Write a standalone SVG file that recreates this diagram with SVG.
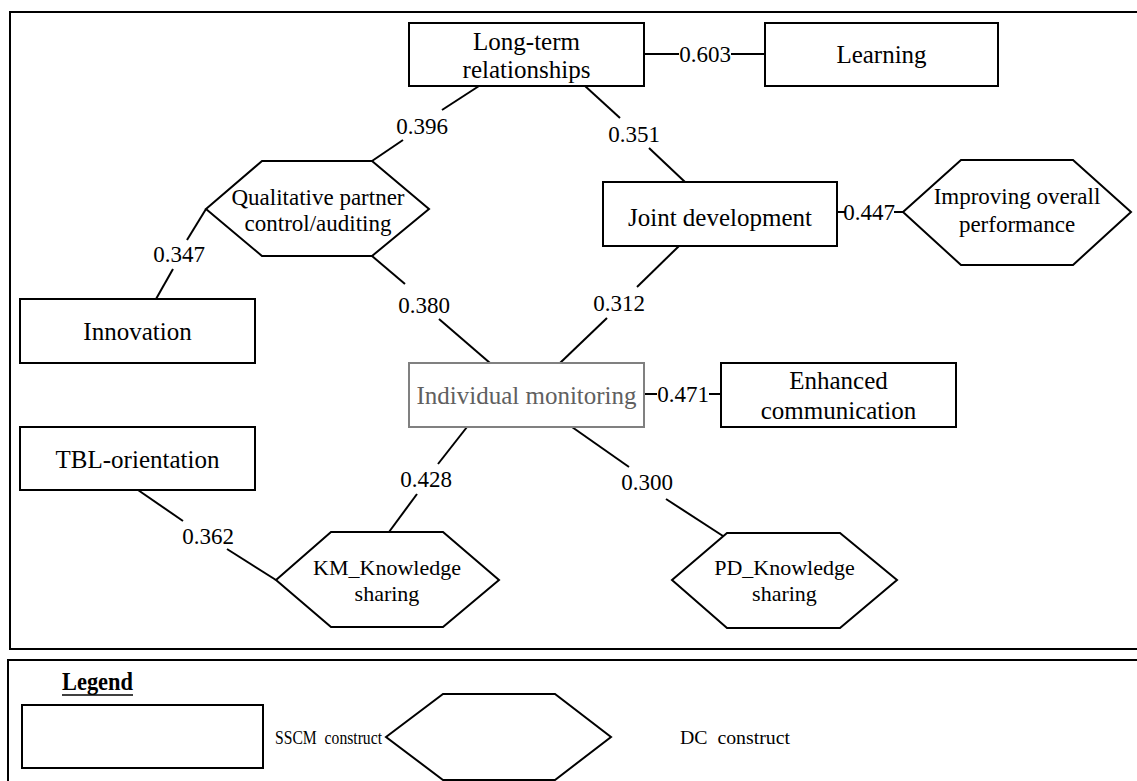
<svg xmlns="http://www.w3.org/2000/svg" width="1137" height="781" viewBox="0 0 1137 781" font-family="'Liberation Serif', 'Times New Roman', serif">
  <style>
    .frame { fill: none; stroke: #000; stroke-width: 2; }
    .box { fill: #fff; stroke: #000; stroke-width: 2; }
    .box-muted { fill: #fff; stroke: #808080; stroke-width: 2; }
    .hex { fill: #fff; stroke: #000; stroke-width: 2; stroke-linejoin: miter; }
    .edge { fill: none; stroke: #000; stroke-width: 2; }
    text { font-family: "Liberation Serif", "Times New Roman", serif; fill: #000; text-anchor: middle; }
    .node-label { font-size: 25px; }
    .hex-label { font-size: 23px; }
    .hex-label-sm { font-size: 22px; }
    .muted { fill: #606060; }
    .weight { font-size: 23px; }
    .legend-title { font-size: 25px; font-weight: bold; text-anchor: start; }
    .legend-text { font-size: 19.5px; text-anchor: start; }
  </style>

  <rect width="1137" height="781" fill="#fff"/>

  <!-- panel frames -->
  <g id="panels">
    <path class="frame" d="M1140,12 H10 V649 H1140"/>
    <path class="frame" d="M1140,660 H8 V790"/>
  </g>

  <!-- connectors with weight labels -->
  <g id="connectors">
    <line class="edge" x1="479" y1="86" x2="442" y2="110"/>
    <line class="edge" x1="403" y1="140" x2="372" y2="161"/>
    <text class="weight" x="422" y="134">0.396</text>

    <line class="edge" x1="585" y1="86" x2="620" y2="118"/>
    <line class="edge" x1="649" y1="148" x2="685" y2="182"/>
    <text class="weight" x="634" y="142">0.351</text>

    <line class="edge" x1="644" y1="54" x2="679" y2="54"/>
    <line class="edge" x1="731" y1="54" x2="765" y2="54"/>
    <text class="weight" x="705" y="62">0.603</text>

    <line class="edge" x1="837" y1="212" x2="845" y2="212"/>
    <line class="edge" x1="894" y1="212" x2="903" y2="212"/>
    <text class="weight" x="869" y="220">0.447</text>

    <line class="edge" x1="206" y1="209" x2="187" y2="240"/>
    <line class="edge" x1="173" y1="269" x2="156" y2="299"/>
    <text class="weight" x="179" y="262">0.347</text>

    <line class="edge" x1="372" y1="256" x2="405" y2="284"/>
    <line class="edge" x1="439" y1="319" x2="490" y2="363"/>
    <text class="weight" x="424" y="313">0.380</text>

    <line class="edge" x1="679" y1="246" x2="637" y2="287"/>
    <line class="edge" x1="607" y1="318" x2="560" y2="363"/>
    <text class="weight" x="619" y="311">0.312</text>

    <line class="edge" x1="644" y1="394" x2="657" y2="394"/>
    <line class="edge" x1="709" y1="394" x2="721" y2="394"/>
    <text class="weight" x="683" y="402">0.471</text>

    <line class="edge" x1="467" y1="427" x2="438" y2="464"/>
    <line class="edge" x1="417" y1="494" x2="389" y2="532"/>
    <text class="weight" x="426" y="487">0.428</text>

    <line class="edge" x1="572" y1="427" x2="629" y2="467"/>
    <line class="edge" x1="666" y1="499" x2="723" y2="536"/>
    <text class="weight" x="647" y="490">0.300</text>

    <line class="edge" x1="138" y1="490" x2="183" y2="521"/>
    <line class="edge" x1="227" y1="549" x2="276" y2="580"/>
    <text class="weight" x="208" y="544">0.362</text>
  </g>

  <!-- SSCM constructs (rectangles) -->
  <g id="long-term-relationships">
    <rect class="box" x="409" y="23" width="235" height="63"/>
    <text class="node-label" x="526.5" y="50">Long-term</text>
    <text class="node-label" x="526.5" y="78">relationships</text>
  </g>
  <g id="learning">
    <rect class="box" x="765" y="23" width="233" height="63"/>
    <text class="node-label" x="881.5" y="63">Learning</text>
  </g>
  <g id="joint-development">
    <rect class="box" x="603" y="182" width="234" height="64"/>
    <text class="node-label" x="720" y="226">Joint development</text>
  </g>
  <g id="innovation">
    <rect class="box" x="20" y="299" width="235" height="64"/>
    <text class="node-label" x="137.5" y="340">Innovation</text>
  </g>
  <g id="tbl-orientation">
    <rect class="box" x="20" y="427" width="235" height="63"/>
    <text class="node-label" x="137.5" y="468">TBL-orientation</text>
  </g>
  <g id="individual-monitoring">
    <rect class="box-muted" x="409" y="363" width="235" height="64"/>
    <text class="node-label muted" x="526.5" y="404">Individual monitoring</text>
  </g>
  <g id="enhanced-communication">
    <rect class="box" x="721" y="363" width="235" height="64"/>
    <text class="node-label" x="838.5" y="389">Enhanced</text>
    <text class="node-label" x="838.5" y="419">communication</text>
  </g>

  <!-- DC constructs (hexagons) -->
  <g id="qualitative-partner-control">
    <polygon class="hex" points="206,209 262,161 372,161 429,209 372,256 262,256"/>
    <text class="hex-label" x="318" y="205">Qualitative partner</text>
    <text class="hex-label" x="318" y="231">control/auditing</text>
  </g>
  <g id="improving-overall-performance">
    <polygon class="hex" points="903,212 961,160 1073,160 1131,212 1073,265 961,265"/>
    <text class="hex-label" x="1017" y="204">Improving overall</text>
    <text class="hex-label" x="1017" y="232">performance</text>
  </g>
  <g id="km-knowledge-sharing">
    <polygon class="hex" points="276,580 331,532 443,532 499,580 443,627 331,627"/>
    <text class="hex-label-sm" x="387" y="575">KM_Knowledge</text>
    <text class="hex-label-sm" x="387" y="601">sharing</text>
  </g>
  <g id="pd-knowledge-sharing">
    <polygon class="hex" points="672,580 727,533 840,533 897,580 840,628 727,628"/>
    <text class="hex-label-sm" x="784.5" y="575">PD_Knowledge</text>
    <text class="hex-label-sm" x="784.5" y="601">sharing</text>
  </g>

  <!-- legend -->
  <g id="legend">
    <text class="legend-title" x="62" y="690" textLength="71" lengthAdjust="spacingAndGlyphs">Legend</text>
    <line x1="62" y1="695" x2="133" y2="695" stroke="#000" stroke-width="1.5"/>
    <rect class="box" x="22" y="705" width="241" height="63"/>
    <text class="legend-text" x="275" y="744" textLength="107" lengthAdjust="spacingAndGlyphs" xml:space="preserve">SSCM  construct</text>
    <polygon class="hex" points="386,737 443,694 555,694 611,737 555,780 443,780"/>
    <text class="legend-text" x="680" y="744" textLength="110" lengthAdjust="spacingAndGlyphs" xml:space="preserve">DC  construct</text>
  </g>
</svg>
